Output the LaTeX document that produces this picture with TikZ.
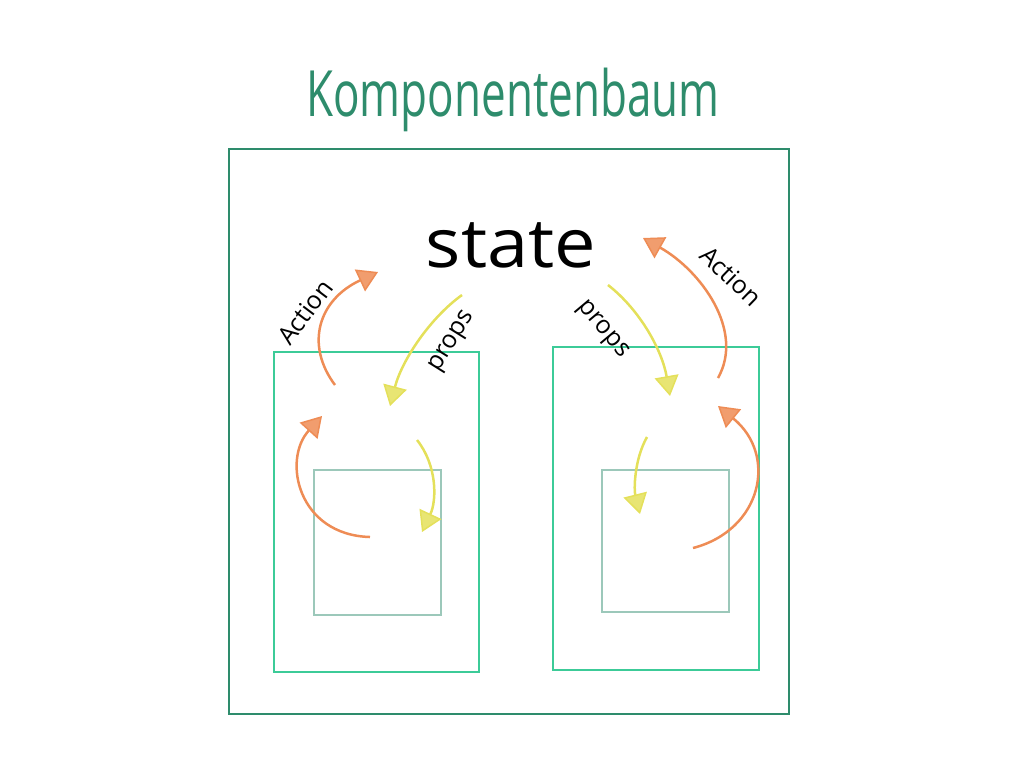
\documentclass[tikz,border=0pt]{standalone}
\usepackage{fontspec}
\setmainfont{Open Sans}
\usetikzlibrary{arrows.meta}
\definecolor{darkg}{HTML}{2E8C6C}
\definecolor{midg}{HTML}{3CCB98}
\definecolor{ing}{HTML}{9CC8BA}
\definecolor{ora}{HTML}{EE8C55}
\definecolor{yel}{HTML}{E4E05A}
\tikzset{
  outerbox/.style={draw=darkg,line width=2.8pt},
  midbox/.style={draw=midg,line width=2.8pt},
  innerbox/.style={draw=ing,line width=2.5pt},
  orarrow/.style={draw=ora,line width=2.5pt,-{Triangle[length=20pt,width=24pt,fill=ora!85,line width=1.5pt]}},
  yelarrow/.style={draw=yel,line width=2.5pt,-{Triangle[length=20pt,width=24pt,fill=yel!85,line width=1.5pt]}},
  lbl/.style={font=\fontsize{25}{25}\selectfont,text=black,inner sep=0pt}
}
\begin{document}
\begin{tikzpicture}[x=1pt,y=-1pt]
\useasboundingbox (0,0) rectangle (1024,780);
% boxes
\draw[outerbox] (229,149) rectangle (789,714);
\draw[midbox] (274,352) rectangle (479,672);
\draw[midbox] (553,347) rectangle (759,670);
\draw[innerbox] (314,470) rectangle (441,615);
\draw[innerbox] (602,470) rectangle (729,612);
% texts
\node[text=darkg,font=\fontsize{44}{44}\selectfont,yscale=1.45,inner sep=0pt,anchor=base] (title) at (513,116) {Komponentenbaum};
\node[font=\fontsize{74}{74}\selectfont,yscale=0.92,inner sep=0pt,anchor=base] (state) at (511,267) {state};
\node[lbl,rotate=53] (actL) at (305,312) {Action};
\node[lbl,rotate=58] (propsL) at (453,342) {props};
\node[lbl,rotate=-50] (propsR) at (602,330) {props};
\node[lbl,rotate=-44] (actR) at (731,276) {Action};
% coordinates
\coordinate (a1s) at (335,385); \coordinate (a1e) at (378,272);
\coordinate (p1s) at (462,295); \coordinate (p1e) at (390,406);
\coordinate (a2s) at (370,537); \coordinate (a2e) at (322,416);
\coordinate (p2s) at (417,440); \coordinate (p2e) at (422,532);
\coordinate (p3s) at (608,285); \coordinate (p3e) at (670,396);
\coordinate (a3s) at (718,378); \coordinate (a3e) at (643,238);
\coordinate (a4s) at (693,548); \coordinate (a4e) at (718,406);
\coordinate (p4s) at (647,437); \coordinate (p4e) at (640,514);
% arrows
\draw[orarrow] (a1s) .. controls (305,345) and (318,300) .. (a1e);
\draw[yelarrow] (p1s) .. controls (430,318) and (402,360) .. (p1e);
\draw[orarrow] (a2s) .. controls (298,535) and (282,460) .. (a2e);
\draw[yelarrow] (p2s) .. controls (437,465) and (437,500) .. (p2e);
\draw[yelarrow] (p3s) .. controls (640,310) and (662,350) .. (p3e);
\draw[orarrow] (a3s) .. controls (745,330) and (700,270) .. (a3e);
\draw[orarrow] (a4s) .. controls (762,530) and (778,455) .. (a4e);
\draw[yelarrow] (p4s) .. controls (634,460) and (634,490) .. (p4e);
\end{tikzpicture}
\end{document}
